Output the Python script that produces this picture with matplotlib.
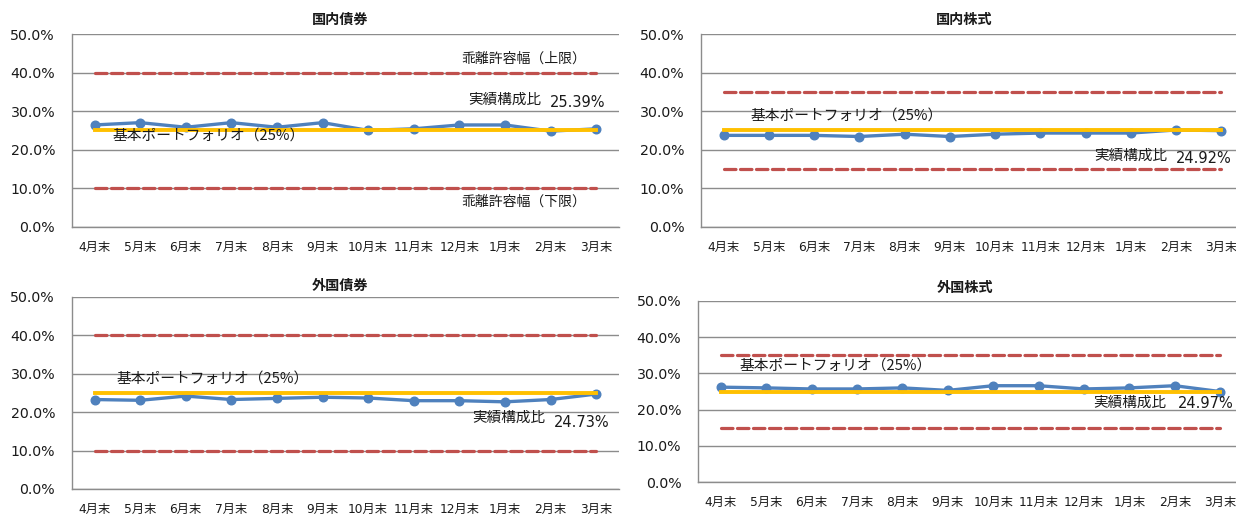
import matplotlib
matplotlib.use("Agg")
import matplotlib.pyplot as plt
from matplotlib.ticker import FuncFormatter

plt.rcParams['font.family'] = ['DejaVu Sans', 'Noto Sans CJK JP']

months = ["4月末", "5月末", "6月末", "7月末", "8月末", "9月末",
          "10月末", "11月末", "12月末", "1月末", "2月末", "3月末"]

titles = ["国内債券", "国内株式", "外国債券", "外国株式"]

actual_dom_bond = [26.4, 27.0, 25.8, 27.0, 25.8, 27.0, 25.0, 25.4, 26.4, 26.4, 24.8, 25.39]
actual_dom_stock = [23.7, 23.7, 23.7, 23.4, 24.0, 23.4, 24.0, 24.3, 24.3, 24.3, 25.1, 24.92]
actual_for_bond = [23.3, 23.1, 24.2, 23.3, 23.6, 23.9, 23.7, 23.0, 23.0, 22.7, 23.3, 24.73]
actual_for_stock = [26.2, 26.0, 25.7, 25.7, 26.0, 25.3, 26.6, 26.6, 25.7, 26.0, 26.6, 24.97]

base_weight = [25.0, 25.0, 25.0, 25.0]
upper_limit = [40.0, 35.0, 40.0, 35.0]
lower_limit = [10.0, 15.0, 10.0, 15.0]
latest_labels = ["25.39%", "24.92%", "24.73%", "24.97%"]

actuals = [actual_dom_bond, actual_dom_stock, actual_for_bond, actual_for_stock]

W, H = 1236, 514
fig = plt.figure(figsize=(W / 100, H / 100), dpi=100)

# axes boxes in pixels: left, top, right, bottom
boxes = [(71.7, 34, 619, 226.7), (701, 34, 1244, 226.7),
         (71.7, 297, 619, 489), (698, 301, 1243, 482)]
title_pos = [(340, 20), (964, 20), (340, 286), (965, 288)]

# annotation placements (x index, y value)
base_txt = [(2.5, 23.3), (2.72, 28.5), (2.58, 28.6), (2.53, 31.8)]
act_txt = [(9.0, 32.9), (9.0, 18.5), (9.09, 18.6), (9.0, 21.8)]
val_txt = [(10.6, 32.1), (10.6, 17.6), (10.69, 17.4), (10.67, 21.8)]

BLUE = "#4F81BD"
YELLOW = "#FFC000"
RED = "#C0504D"
GRID = "#8C8C8C"
TXT = "#1a1a1a"
JP = ['Noto Sans CJK JP']

x = list(range(len(months)))
for k in range(4):
    l, t, r, b = boxes[k]
    ax = fig.add_axes([l / W, 1 - b / H, (r - l) / W, (b - t) / H])
    ax.set_xlim(-0.5, len(months) - 0.5)
    ax.set_ylim(0, 50)
    ax.set_yticks([0, 10, 20, 30, 40, 50])
    ax.yaxis.set_major_formatter(FuncFormatter(lambda v, p: f"{v:.1f}%"))
    ax.set_xticks(x)
    ax.set_xticklabels(months, fontsize=8.8, color=TXT)
    ax.tick_params(axis='y', length=0, pad=12, labelsize=10.2, labelcolor=TXT)
    ax.tick_params(axis='x', length=0, pad=10)
    ax.grid(axis='y', color=GRID, linewidth=1.0, zorder=0)
    for s in ['top', 'right']:
        ax.spines[s].set_visible(False)
    for s in ['left', 'bottom']:
        ax.spines[s].set_color(GRID)
        ax.spines[s].set_linewidth(1.0)

    for lim in (upper_limit[k], lower_limit[k]):
        ax.plot(x, [lim] * len(x), color=RED, lw=2.3,
                dashes=(3.6, 1.4), dash_capstyle='round', zorder=2)
    ax.plot(x, actuals[k], color=BLUE, lw=2.4, marker='o', markersize=6.2,
            zorder=3)
    ax.plot(x, [base_weight[k]] * len(x), color=YELLOW, lw=2.8, zorder=4)

    ax.text(*base_txt[k], f"基本ポートフォリオ（{base_weight[k]:.0f}%）",
            ha='center', va='center', fontsize=10.6, color=TXT,
            family=JP, zorder=5)
    ax.text(*act_txt[k], "実績構成比", ha='center', va='center', fontsize=10.5,
            color=TXT, family=JP, zorder=5)
    ax.text(*val_txt[k], latest_labels[k], ha='center', va='center',
            fontsize=10.5, color=TXT, zorder=5)
    if k == 0:
        ax.text(9.41, 43.5, "乖離許容幅（上限）", ha='center', va='center',
                fontsize=10.0, color=TXT, family=JP)
        ax.text(9.41, 6.4, "乖離許容幅（下限）", ha='center', va='center',
                fontsize=10.0, color=TXT, family=JP)

    tx, ty = title_pos[k]
    fig.text(tx / W, 1 - ty / H, titles[k], ha='center', va='center',
             fontsize=10.2, fontweight='bold', color=TXT, family=JP)

fig.savefig("out.png", dpi=100, facecolor='white')
